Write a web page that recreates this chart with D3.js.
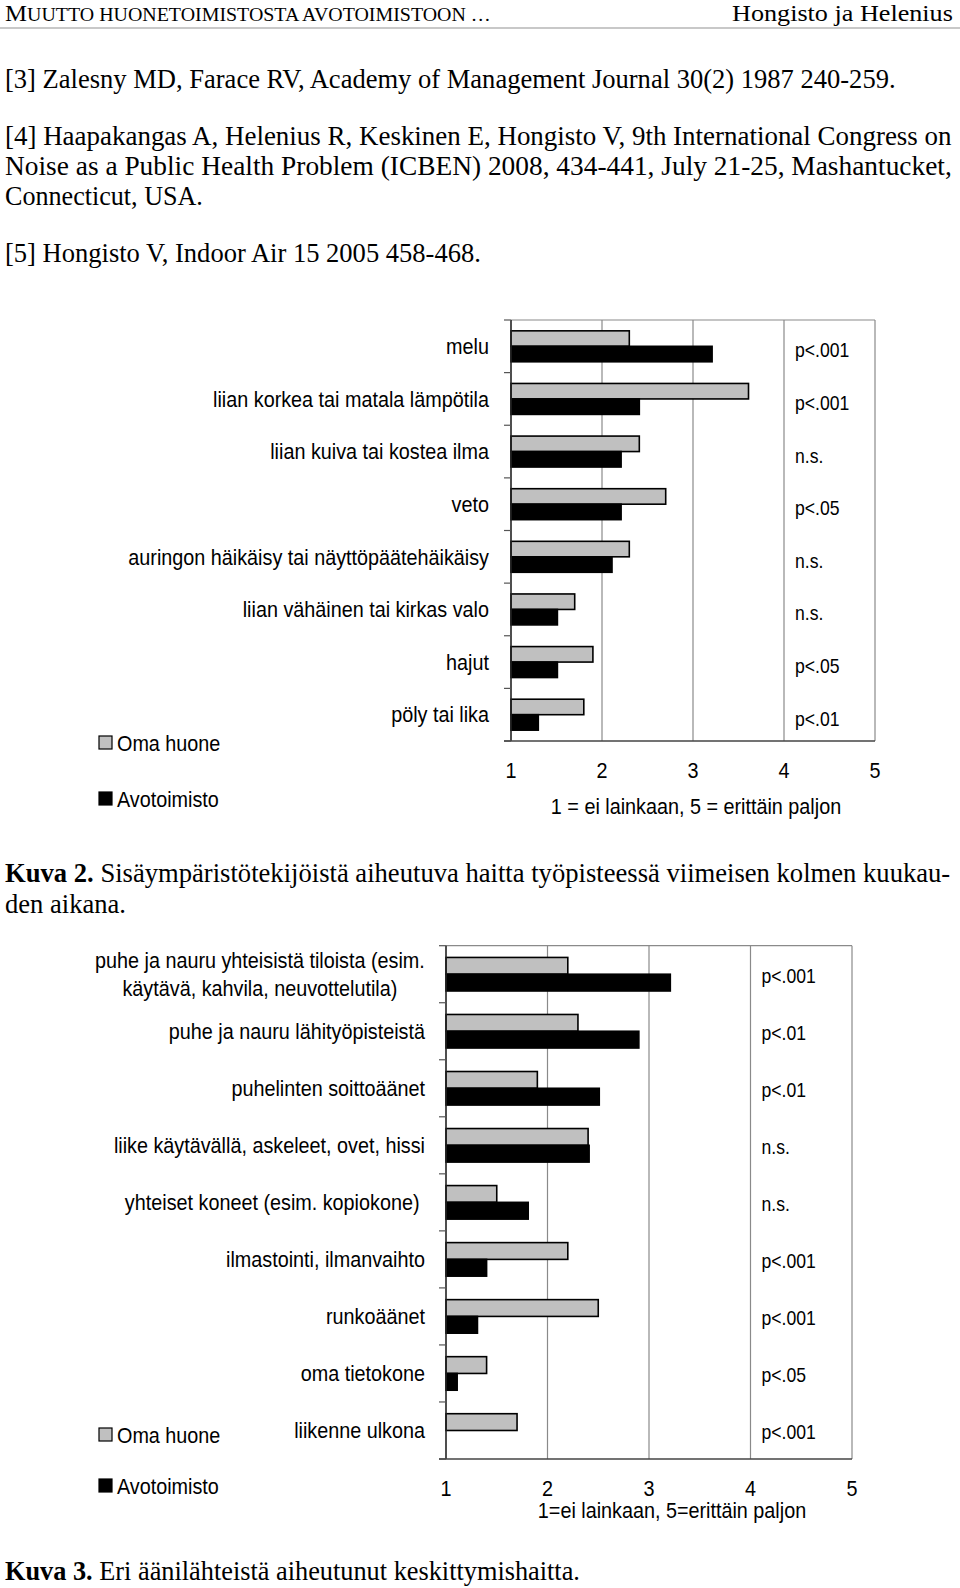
<!DOCTYPE html>
<html><head><meta charset="utf-8">
<script src="https://cdn.jsdelivr.net/npm/d3@7"></script>
<style>html,body{margin:0;padding:0;background:#fff;} svg{display:block;}</style>
</head><body>
<script>
// ---------- data ----------
const fig2Categories = ["melu","liian korkea tai matala lämpötila","liian kuiva tai kostea ilma","veto","auringon häikäisy tai näyttöpäätehäikäisy","liian vähäinen tai kirkas valo","hajut","pöly tai lika"];
const fig2OmaHuone = [2.30,3.61,2.41,2.70,2.30,1.70,1.90,1.80];
const fig2Avotoimisto = [3.21,2.41,2.21,2.21,2.11,1.51,1.51,1.30];
const fig2PValues = ["p<.001","p<.001","n.s.","p<.05","n.s.","n.s.","p<.05","p<.01"];
const fig2AxisTitle = "1 = ei lainkaan, 5 = erittäin paljon";

const fig3Categories = ["puhe ja nauru yhteisistä tiloista (esim.\nkäytävä, kahvila, neuvottelutila)","puhe ja nauru lähityöpisteistä","puhelinten soittoäänet","liike käytävällä, askeleet, ovet, hissi","yhteiset koneet (esim. kopiokone)\u00a0","ilmastointi, ilmanvaihto","runkoäänet","oma tietokone","liikenne ulkona"];
const fig3OmaHuone = [2.20,2.30,1.90,2.40,1.50,2.20,2.50,1.40,1.70];
const fig3Avotoimisto = [3.21,2.90,2.51,2.41,1.81,1.40,1.31,1.11,1.00];
const fig3PValues = ["p<.001","p<.01","p<.01","n.s.","n.s.","p<.001","p<.001","p<.05","p<.001"];
const fig3AxisTitle = "1=ei lainkaan, 5=erittäin paljon";

const xTickValues = [1,2,3,4,5];
const seriesNames = ["Oma huone","Avotoimisto"];
const seriesColors = ["#c0c0c0","#000000"];

// ---------- page ----------
const W = 960, H = 1588;
const svg = d3.select("body").append("svg").attr("width", W).attr("height", H);
const SERIF = "'Liberation Serif','Times New Roman',serif";
const SANS = "'Liberation Sans',Arial,Helvetica,sans-serif";
const SX = 0.9;
const FS = 22;

// text line scaled horizontally to a target width (keeps bbox honest)
function bodyLine(y, parts, len, size, anchorEnd) {
  const t = svg.append("text").attr("x", 0).attr("y", 0)
    .style("font-family", SERIF).style("font-size", (size||27.5) + "px").attr("fill", "#000");
  parts.forEach(p => {
    const ts = t.append("tspan").text(p.t);
    if (p.b) ts.style("font-weight", "bold");
    if (p.s) ts.style("font-size", p.s + "px");
  });
  const nat = t.node().getComputedTextLength();
  const k = len / nat;
  const x = anchorEnd ? anchorEnd - len : 5;
  t.attr("transform", `translate(${x},${y}) scale(${k},1)`);
  return t;
}

// header
bodyLine(21, [{t:"M", s:23},{t:"UUTTO HUONETOIMISTOSTA AVOTOIMISTOON …", s:18.5}], 486);
bodyLine(21, [{t:"Hongisto ja Helenius"}], 221, 23, 953);
svg.append("line").attr("x1", 0).attr("x2", W).attr("y1", 28).attr("y2", 28)
  .attr("stroke", "#c8c8c8").attr("stroke-width", 2);

bodyLine(88, [{t:"[3] Zalesny MD, Farace RV, Academy of Management Journal 30(2) 1987 240-259."}], 891);
bodyLine(145, [{t:"[4] Haapakangas A, Helenius R, Keskinen E, Hongisto V, 9th International Congress on"}], 947);
bodyLine(175, [{t:"Noise as a Public Health Problem (ICBEN) 2008, 434-441, July 21-25, Mashantucket,"}], 947);
bodyLine(205, [{t:"Connecticut, USA."}], 198);
bodyLine(262, [{t:"[5] Hongisto V, Indoor Air 15 2005 458-468."}], 476);

bodyLine(882, [{t:"Kuva 2.", b:true},{t:" Sisäympäristötekijöistä aiheutuva haitta työpisteessä viimeisen kolmen kuukau-"}], 946);
bodyLine(913, [{t:"den aikana."}], 121);
bodyLine(1580, [{t:"Kuva 3.", b:true},{t:" Eri äänilähteistä aiheutunut keskittymishaitta."}], 575);

// ---------- chart ----------
function sansText(g, x, y, s, anchor, size, sx) {
  return g.append("text")
    .attr("transform", `translate(${x},${y}) scale(${sx||SX},1)`)
    .attr("text-anchor", anchor || "start").attr("dy", "0.35em")
    .style("font-family", SANS).style("font-size", (size||FS) + "px").attr("fill", "#000")
    .text(s);
}

function drawChart(cfg) {
  const g = svg.append("g");
  const x = d3.scaleLinear().domain([1,5]).range([cfg.x0, cfg.x1]);
  const y = d3.scaleBand().domain(cfg.categories).range([cfg.y0, cfg.y1]).paddingInner(0).paddingOuter(0);
  const yi = d3.scaleBand().domain(seriesNames).range([0, y.bandwidth()]).paddingInner(0).paddingOuter(0.7);

  // gridlines and frame
  xTickValues.slice(1).forEach(v => {
    g.append("line").attr("x1", x(v)).attr("x2", x(v)).attr("y1", cfg.y0).attr("y2", cfg.y1)
      .attr("stroke", "#8a8a8a").attr("stroke-width", 1.2);
  });
  g.append("line").attr("x1", cfg.x0).attr("x2", cfg.x1).attr("y1", cfg.y0).attr("y2", cfg.y0)
    .attr("stroke", "#8a8a8a").attr("stroke-width", 1.2);

  // bars
  const series = [cfg.oma, cfg.avo];
  series.forEach((vals, si) => {
    g.selectAll(null).data(cfg.categories).enter().append("rect")
      .attr("x", x(1))
      .attr("y", (c) => y(c) + yi(seriesNames[si]))
      .attr("width", (c, i) => Math.max(0, x(vals[i]) - x(1)))
      .attr("height", yi.bandwidth())
      .attr("fill", seriesColors[si])
      .attr("stroke", (c, i) => vals[i] > 1 ? "#000" : "none")
      .attr("stroke-width", 1.6);
  });

  // left axis with ticks at band boundaries
  g.append("line").attr("x1", cfg.x0).attr("x2", cfg.x0).attr("y1", cfg.y0).attr("y2", cfg.y1)
    .attr("stroke", "#222").attr("stroke-width", 1.6);
  const bounds = cfg.categories.map(c => y(c)).concat([cfg.y1]);
  bounds.forEach(b => {
    g.append("line").attr("x1", cfg.x0 - 7).attr("x2", cfg.x0).attr("y1", b).attr("y2", b)
      .attr("stroke", "#555").attr("stroke-width", 1.2);
  });
  // bottom axis
  g.append("line").attr("x1", cfg.x0 - 7).attr("x2", cfg.x1).attr("y1", cfg.y1).attr("y2", cfg.y1)
    .attr("stroke", "#444").attr("stroke-width", 1.6);

  // tick labels
  xTickValues.forEach(v => sansText(g, x(v), cfg.y1 + 29, String(v), "middle", FS));
  sansText(g, cfg.titleX, cfg.titleY, cfg.axisTitle, "middle", FS);

  // category labels
  cfg.categories.forEach(c => {
    const lines = c.split("\n");
    const cy = y(c) + y.bandwidth() / 2;
    if (lines.length === 1) {
      sansText(g, cfg.x0 - cfg.labelGap, cy, c, "end", FS);
    } else {
      const lh = 28;
      const grp = g.append("g");
      const nodes = lines.map((l, k) => grp.append("text")
        .attr("x", 0).attr("y", cy + (k - (lines.length - 1) / 2) * lh).attr("dy", "0.35em")
        .attr("text-anchor", "middle").style("font-family", SANS).style("font-size", FS + "px").text(l));
      const maxW = d3.max(nodes, n => n.node().getComputedTextLength());
      grp.attr("transform", `translate(${cfg.x0 - cfg.labelGap - maxW * SX / 2},0) scale(${SX},1)`);
    }
  });

  // p-values
  cfg.categories.forEach((c, i) => {
    sansText(g, x(4) + 11, y(c) + y.bandwidth() / 2 + cfg.pShift, cfg.pvals[i], "start", 20, 0.88);
  });

  // legend
  seriesNames.forEach((s, si) => {
    const ly = cfg.legendY[si];
    g.append("rect").attr("x", 99).attr("y", ly - 7).attr("width", 13).attr("height", 13)
      .attr("fill", seriesColors[si]).attr("stroke", "#000").attr("stroke-width", 1.2);
    sansText(g, 117, ly, s, "start", FS);
  });
}

drawChart({
  categories: fig2Categories, oma: fig2OmaHuone, avo: fig2Avotoimisto, pvals: fig2PValues,
  axisTitle: fig2AxisTitle,
  x0: 511, x1: 875, y0: 320, y1: 741, labelGap: 22, pShift: 4,
  titleX: 696, titleY: 806, legendY: [743, 799]
});
drawChart({
  categories: fig3Categories, oma: fig3OmaHuone, avo: fig3Avotoimisto, pvals: fig3PValues,
  axisTitle: fig3AxisTitle,
  x0: 446, x1: 852, y0: 945.7, y1: 1459, labelGap: 21, pShift: 2,
  titleX: 672, titleY: 1510, legendY: [1435, 1486]
});
</script>
</body></html>
